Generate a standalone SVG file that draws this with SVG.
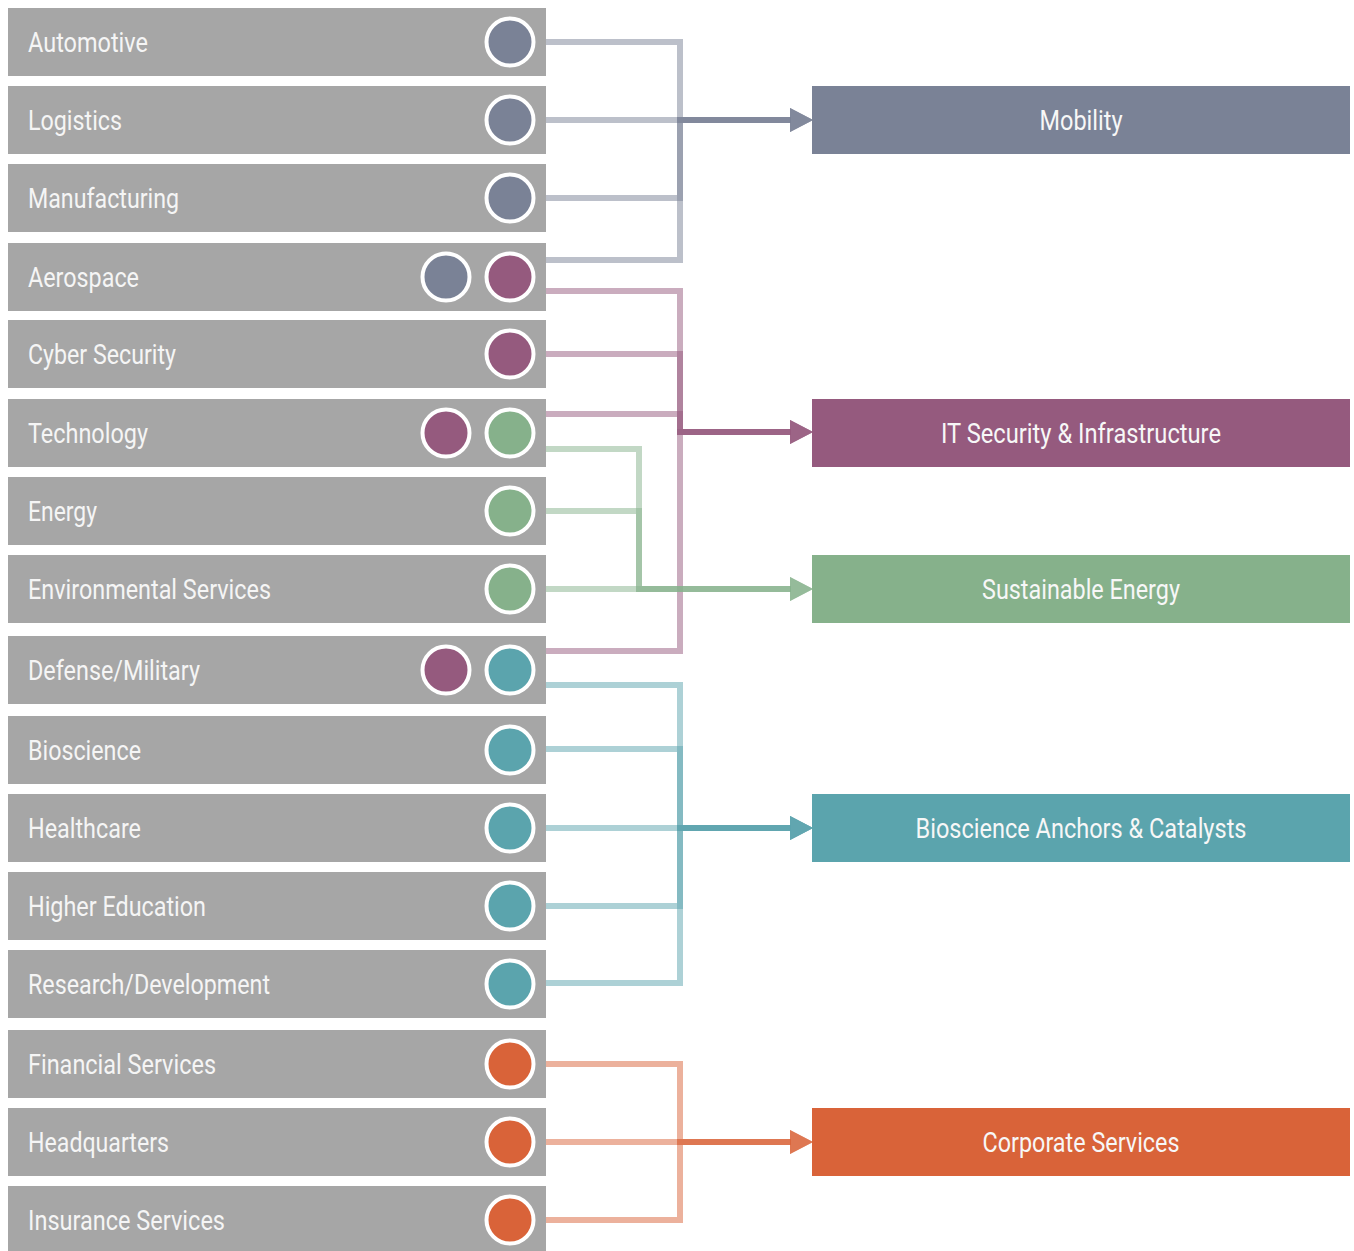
<svg xmlns="http://www.w3.org/2000/svg" width="1354" height="1251" viewBox="0 0 1354 1251">
<style>
.box{fill:#a6a6a6}
.lbl{font-family:Roboto,"Liberation Sans",sans-serif;font-size:27px;fill:#f5f5f5}
.tl{font-family:Roboto,"Liberation Sans",sans-serif;font-size:27px;fill:#f7f7f7;text-anchor:middle}
.c{fill:none;stroke-width:6;stroke-opacity:0.5;stroke-linejoin:miter;stroke-linecap:butt}
.mob{fill:#7a8296}
.its{fill:#955a7e}
.sus{fill:#86b18b}
.bio{fill:#5ba4ad}
.cor{fill:#d96339}
circle.dot{stroke:#ffffff;stroke-width:4}
</style>
<defs>
<marker id="aMob" viewBox="0 0 23 24" markerWidth="23" markerHeight="24" refX="1" refY="12" orient="auto" markerUnits="userSpaceOnUse"><polygon points="0,0 23,12 0,24" fill="#7a8296" fill-opacity="0.5"/></marker>
<marker id="aIts" viewBox="0 0 23 24" markerWidth="23" markerHeight="24" refX="1" refY="12" orient="auto" markerUnits="userSpaceOnUse"><polygon points="0,0 23,12 0,24" fill="#955a7e" fill-opacity="0.5"/></marker>
<marker id="aSus" viewBox="0 0 23 24" markerWidth="23" markerHeight="24" refX="1" refY="12" orient="auto" markerUnits="userSpaceOnUse"><polygon points="0,0 23,12 0,24" fill="#86b18b" fill-opacity="0.5"/></marker>
<marker id="aBio" viewBox="0 0 23 24" markerWidth="23" markerHeight="24" refX="1" refY="12" orient="auto" markerUnits="userSpaceOnUse"><polygon points="0,0 23,12 0,24" fill="#5ba4ad" fill-opacity="0.5"/></marker>
<marker id="aCor" viewBox="0 0 23 24" markerWidth="23" markerHeight="24" refX="1" refY="12" orient="auto" markerUnits="userSpaceOnUse"><polygon points="0,0 23,12 0,24" fill="#d96339" fill-opacity="0.5"/></marker>
</defs>

<g id="connectors">
<g stroke="#7a8296">
<path class="c" d="M546,42 H680 V120 H791" marker-end="url(#aMob)"/>
<path class="c" d="M546,120 H791" marker-end="url(#aMob)"/>
<path class="c" d="M546,198 H680 V120 H791" marker-end="url(#aMob)"/>
<path class="c" d="M546,260 H680 V120 H791" marker-end="url(#aMob)"/>
</g>
<g stroke="#955a7e">
<path class="c" d="M546,291 H680 V432 H791" marker-end="url(#aIts)"/>
<path class="c" d="M546,354 H680 V432 H791" marker-end="url(#aIts)"/>
<path class="c" d="M546,414 H680 V432 H791" marker-end="url(#aIts)"/>
<path class="c" d="M546,651 H680 V432 H791" marker-end="url(#aIts)"/>
</g>
<g stroke="#86b18b">
<path class="c" d="M546,449 H639 V589 H791" marker-end="url(#aSus)"/>
<path class="c" d="M546,511 H639 V589 H791" marker-end="url(#aSus)"/>
<path class="c" d="M546,589 H791" marker-end="url(#aSus)"/>
</g>
<g stroke="#5ba4ad">
<path class="c" d="M546,685 H680 V828 H791" marker-end="url(#aBio)"/>
<path class="c" d="M546,749 H680 V828 H791" marker-end="url(#aBio)"/>
<path class="c" d="M546,828 H791" marker-end="url(#aBio)"/>
<path class="c" d="M546,906 H680 V828 H791" marker-end="url(#aBio)"/>
<path class="c" d="M546,983 H680 V828 H791" marker-end="url(#aBio)"/>
</g>
<g stroke="#d96339">
<path class="c" d="M546,1064 H680 V1142 H791" marker-end="url(#aCor)"/>
<path class="c" d="M546,1142 H791" marker-end="url(#aCor)"/>
<path class="c" d="M546,1220 H680 V1142 H791" marker-end="url(#aCor)"/>
</g>
</g>

<g id="automotive"><rect class="box" x="8" y="8" width="538" height="68"/><text class="lbl" x="28" y="51.5" textLength="120" lengthAdjust="spacingAndGlyphs">Automotive</text><circle class="dot mob" cx="510" cy="42" r="23.5"/></g>
<g id="logistics"><rect class="box" x="8" y="86" width="538" height="68"/><text class="lbl" x="28" y="129.5" textLength="94" lengthAdjust="spacingAndGlyphs">Logistics</text><circle class="dot mob" cx="510" cy="120" r="23.5"/></g>
<g id="manufacturing"><rect class="box" x="8" y="164" width="538" height="68"/><text class="lbl" x="28" y="207.5" textLength="151" lengthAdjust="spacingAndGlyphs">Manufacturing</text><circle class="dot mob" cx="510" cy="198" r="23.5"/></g>
<g id="aerospace"><rect class="box" x="8" y="243" width="538" height="68"/><text class="lbl" x="28" y="286.5" textLength="111" lengthAdjust="spacingAndGlyphs">Aerospace</text><circle class="dot mob" cx="446" cy="277" r="23.5"/><circle class="dot its" cx="510" cy="277" r="23.5"/></g>
<g id="cyber-security"><rect class="box" x="8" y="320" width="538" height="68"/><text class="lbl" x="28" y="363.5" textLength="148" lengthAdjust="spacingAndGlyphs">Cyber Security</text><circle class="dot its" cx="510" cy="354" r="23.5"/></g>
<g id="technology"><rect class="box" x="8" y="399" width="538" height="68"/><text class="lbl" x="28" y="442.5" textLength="120" lengthAdjust="spacingAndGlyphs">Technology</text><circle class="dot its" cx="446" cy="433" r="23.5"/><circle class="dot sus" cx="510" cy="433" r="23.5"/></g>
<g id="energy"><rect class="box" x="8" y="477" width="538" height="68"/><text class="lbl" x="28" y="520.5" textLength="69" lengthAdjust="spacingAndGlyphs">Energy</text><circle class="dot sus" cx="510" cy="511" r="23.5"/></g>
<g id="environmental-services"><rect class="box" x="8" y="555" width="538" height="68"/><text class="lbl" x="28" y="598.5" textLength="243" lengthAdjust="spacingAndGlyphs">Environmental Services</text><circle class="dot sus" cx="510" cy="589" r="23.5"/></g>
<g id="defense-military"><rect class="box" x="8" y="636" width="538" height="68"/><text class="lbl" x="28" y="679.5" textLength="172" lengthAdjust="spacingAndGlyphs">Defense/Military</text><circle class="dot its" cx="446" cy="670" r="23.5"/><circle class="dot bio" cx="510" cy="670" r="23.5"/></g>
<g id="bioscience"><rect class="box" x="8" y="716" width="538" height="68"/><text class="lbl" x="28" y="759.5" textLength="113" lengthAdjust="spacingAndGlyphs">Bioscience</text><circle class="dot bio" cx="510" cy="750" r="23.5"/></g>
<g id="healthcare"><rect class="box" x="8" y="794" width="538" height="68"/><text class="lbl" x="28" y="837.5" textLength="113" lengthAdjust="spacingAndGlyphs">Healthcare</text><circle class="dot bio" cx="510" cy="828" r="23.5"/></g>
<g id="higher-education"><rect class="box" x="8" y="872" width="538" height="68"/><text class="lbl" x="28" y="915.5" textLength="178" lengthAdjust="spacingAndGlyphs">Higher Education</text><circle class="dot bio" cx="510" cy="906" r="23.5"/></g>
<g id="research-development"><rect class="box" x="8" y="950" width="538" height="68"/><text class="lbl" x="28" y="993.5" textLength="242" lengthAdjust="spacingAndGlyphs">Research/Development</text><circle class="dot bio" cx="510" cy="984" r="23.5"/></g>
<g id="financial-services"><rect class="box" x="8" y="1030" width="538" height="68"/><text class="lbl" x="28" y="1073.5" textLength="188" lengthAdjust="spacingAndGlyphs">Financial Services</text><circle class="dot cor" cx="510" cy="1064" r="23.5"/></g>
<g id="headquarters"><rect class="box" x="8" y="1108" width="538" height="68"/><text class="lbl" x="28" y="1151.5" textLength="141" lengthAdjust="spacingAndGlyphs">Headquarters</text><circle class="dot cor" cx="510" cy="1142" r="23.5"/></g>
<g id="insurance-services"><rect class="box" x="8" y="1186" width="538" height="68"/><text class="lbl" x="28" y="1229.5" textLength="197" lengthAdjust="spacingAndGlyphs">Insurance Services</text><circle class="dot cor" cx="510" cy="1220" r="23.5"/></g>

<g id="mobility"><rect class="mob" x="812" y="86" width="538" height="68"/><text class="tl" x="1081" y="129.5" textLength="83" lengthAdjust="spacingAndGlyphs">Mobility</text></g>
<g id="it-security"><rect class="its" x="812" y="399" width="538" height="68"/><text class="tl" x="1081" y="442.5" textLength="280" lengthAdjust="spacingAndGlyphs">IT Security &amp; Infrastructure</text></g>
<g id="sustainable-energy"><rect class="sus" x="812" y="555" width="538" height="68"/><text class="tl" x="1081" y="598.5" textLength="198" lengthAdjust="spacingAndGlyphs">Sustainable Energy</text></g>
<g id="bioscience-anchors"><rect class="bio" x="812" y="794" width="538" height="68"/><text class="tl" x="1081" y="837.5" textLength="331" lengthAdjust="spacingAndGlyphs">Bioscience Anchors &amp; Catalysts</text></g>
<g id="corporate-services"><rect class="cor" x="812" y="1108" width="538" height="68"/><text class="tl" x="1081" y="1151.5" textLength="197" lengthAdjust="spacingAndGlyphs">Corporate Services</text></g>
</svg>
